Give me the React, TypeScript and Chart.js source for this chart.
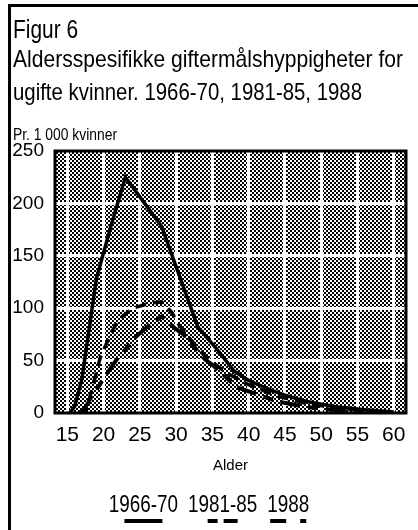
import React, { useEffect, useRef, useState } from "react";
import { Chart, registerables } from "chart.js";
Chart.register(...registerables);

const FONT = "'Liberation Sans',Arial,Helvetica,sans-serif";

const titleLines = ["Figur 6", "Aldersspesifikke giftermålshyppigheter for", "ugifte kvinner. 1966-70, 1981-85, 1988"];
const unitLabel = "Pr. 1 000 kvinner";
const xTitle = "Alder";

const seriesLabels = ["1966-70", "1981-85", "1988"];

const ages1966 = [15.3, 16, 17, 18, 19, 21, 23, 28, 33, 35.5, 38, 40, 43, 45, 48, 52, 56, 60];
const vals1966 = [0, 6, 32, 80, 128, 178, 225, 178, 82, 62, 40, 31, 22, 17, 11, 6, 3, 1];

const ages1981 = [16.5, 17.6, 18.5, 19.5, 21, 22.2, 24, 26.5, 28, 29.4, 30.2, 31.5, 34, 37, 40, 44, 48, 52, 56, 59];
const vals1981 = [0, 3, 25, 52, 76, 90, 100, 105, 106, 96, 86, 74, 54, 38, 27, 16, 9, 5, 2, 1];

const ages1988 = [17, 18.3, 19, 20, 21.8, 24.5, 26, 28, 30, 31, 34, 35, 38.3, 39.4, 44, 47, 50, 54, 58];
const vals1988 = [0, 15, 22, 33, 51, 73, 82, 92, 80, 75, 51, 46, 25, 22, 11, 7, 4, 2, 1];

const xTicks = [15, 20, 25, 30, 35, 40, 45, 50, 55, 60];
const yTicks = [0, 50, 100, 150, 200, 250];

const dashes: number[][] = [[], [11, 7], [20, 8, 10, 8]];
const legendDashes: number[][] = [[], [10, 6, 14, 20], [16, 14, 6, 20]];
const legendLengths = [38, 30, 36];

function toPoints(xs: number[], ys: number[]) {
  return xs.map((x, i) => ({ x, y: ys[i] }));
}

function makePattern(ctx: CanvasRenderingContext2D) {
  const c = document.createElement("canvas");
  c.width = 4;
  c.height = 4;
  const p = c.getContext("2d")!;
  p.fillStyle = "#fff";
  p.fillRect(0, 0, 4, 4);
  p.fillStyle = "#000";
  p.fillRect(0, 0, 2, 2);
  p.fillRect(2, 2, 2, 2);
  return ctx.createPattern(c, "repeat");
}

const bgPlugin = {
  id: "bgPattern",
  beforeDraw(chart: any) {
    const { ctx, chartArea } = chart;
    const pat = makePattern(ctx);
    ctx.save();
    ctx.fillStyle = pat || "#888";
    ctx.fillRect(chartArea.left, chartArea.top, chartArea.right - chartArea.left, chartArea.bottom - chartArea.top);
    ctx.restore();
  },
};

const framePlugin = {
  id: "frame",
  beforeDatasetsDraw(chart: any) {
    const { ctx, chartArea } = chart;
    ctx.save();
    ctx.strokeStyle = "#000";
    ctx.lineWidth = 3;
    ctx.strokeRect(chartArea.left, chartArea.top, chartArea.right - chartArea.left, chartArea.bottom - chartArea.top);
    ctx.restore();
  },
};

const NARROW = 0.82;

const legendPlugin = {
  id: "customLegend",
  afterDraw(chart: any) {
    const { ctx } = chart;
    const labels = chart.data.datasets.map((d: any) => d.label);
    ctx.save();
    ctx.font = `23px ${FONT}`;
    ctx.fillStyle = "#000";
    ctx.textBaseline = "alphabetic";
    ctx.textAlign = "left";
    const gap = 10;
    const widths = labels.map((l: string) => ctx.measureText(l).width * NARROW);
    const total = widths.reduce((a: number, b: number) => a + b, 0) + gap * (labels.length - 1);
    let x = 209 - total / 2;
    labels.forEach((l: string, i: number) => {
      ctx.save();
      ctx.translate(x, 512);
      ctx.scale(NARROW, 1);
      ctx.fillText(l, 0, 0);
      ctx.restore();
      const cx = x + widths[i] / 2;
      const half = legendLengths[i] / 2;
      ctx.beginPath();
      ctx.lineWidth = 4;
      ctx.strokeStyle = "#000";
      ctx.setLineDash(legendDashes[i]);
      ctx.moveTo(cx - half, 521);
      ctx.lineTo(cx + half, 521);
      ctx.stroke();
      ctx.setLineDash([]);
      x += widths[i] + gap;
    });
    ctx.restore();
  },
};

function FitText({ text, top, size, width }: { text: string; top: number; size: number; width: number }) {
  const [scale, setScale] = useState(NARROW);
  useEffect(() => {
    const c = document.createElement("canvas").getContext("2d")!;
    c.font = `${size}px ${FONT}`;
    const w = c.measureText(text).width;
    if (w > 0) setScale(width / w);
  }, [text, size, width]);
  return (
    <div
      style={{
        position: "absolute",
        left: 13,
        top,
        fontSize: size,
        lineHeight: 1,
        fontFamily: FONT,
        color: "#000",
        whiteSpace: "nowrap",
        transform: `scaleX(${scale})`,
        transformOrigin: "left top",
      }}
    >
      {text}
    </div>
  );
}

export default function App() {
  const ref = useRef<HTMLCanvasElement>(null);
  useEffect(() => {
    const canvas = ref.current!;
    const chart = new Chart(canvas, {
      type: "line",
      data: {
        datasets: [
          { label: seriesLabels[0], data: toPoints(ages1966, vals1966), borderColor: "#000", borderWidth: 3.5, borderDash: dashes[0], pointRadius: 0, tension: 0, fill: false },
          { label: seriesLabels[1], data: toPoints(ages1981, vals1981), borderColor: "#000", borderWidth: 3.5, borderDash: dashes[1], pointRadius: 0, tension: 0, fill: false },
          { label: seriesLabels[2], data: toPoints(ages1988, vals1988), borderColor: "#000", borderWidth: 4, borderDash: dashes[2], pointRadius: 0, tension: 0, fill: false },
        ],
      },
      options: {
        animation: false,
        responsive: false,
        devicePixelRatio: 1,
        layout: { padding: { top: 151, right: 12, bottom: 47, left: 0 } },
        plugins: { legend: { display: false }, tooltip: { enabled: false }, title: { display: false } },
        scales: {
          x: {
            type: "linear",
            min: 13.3,
            max: 61.7,
            afterBuildTicks: (s: any) => { s.ticks = xTicks.map((v) => ({ value: v })); },
            afterFit: (s: any) => { s.height = 70; },
            grid: { color: "#fff", lineWidth: 3, drawTicks: false },
            border: { display: false },
            ticks: { color: "#000", padding: 10, font: { family: FONT, size: 21 }, callback: (v: any) => String(v), autoSkip: false, maxRotation: 0 },
            title: { display: true, text: xTitle, color: "#000", font: { family: FONT, size: 15 }, padding: { top: 0, bottom: 8 } },
          },
          y: {
            min: 0,
            max: 250,
            afterBuildTicks: (s: any) => { s.ticks = yTicks.map((v) => ({ value: v })); },
            afterFit: (s: any) => { s.width = 55; },
            grid: {
              color: (c: any) => (c.tick && (c.tick.value === 0 || c.tick.value === 250) ? "rgba(0,0,0,0)" : "#fff"),
              lineWidth: 3,
              drawTicks: false,
            },
            border: { display: false },
            ticks: { color: "#000", padding: 11, font: { family: FONT, size: 19 }, callback: (v: any) => String(v) },
          },
        },
      },
      plugins: [bgPlugin, framePlugin, legendPlugin],
    } as any);
    return () => chart.destroy();
  }, []);

  return (
    <div style={{ position: "fixed", left: 0, top: 0, width: 418, height: 530, background: "#fff", overflow: "hidden" }}>
      <canvas ref={ref} width={418} height={530} style={{ position: "absolute", left: 0, top: 0, width: 418, height: 530 }} />
      <div style={{ position: "absolute", left: 8, top: 4, width: 420, height: 540, borderTop: "3px solid #000", borderLeft: "3px solid #000", boxSizing: "border-box", pointerEvents: "none" }} />
      <FitText text={titleLines[0]} top={17} size={25} width={65} />
      <FitText text={titleLines[1]} top={47} size={24} width={390} />
      <FitText text={titleLines[2]} top={80} size={24} width={349} />
      <FitText text={unitLabel} top={127} size={16} width={104} />
    </div>
  );
}
